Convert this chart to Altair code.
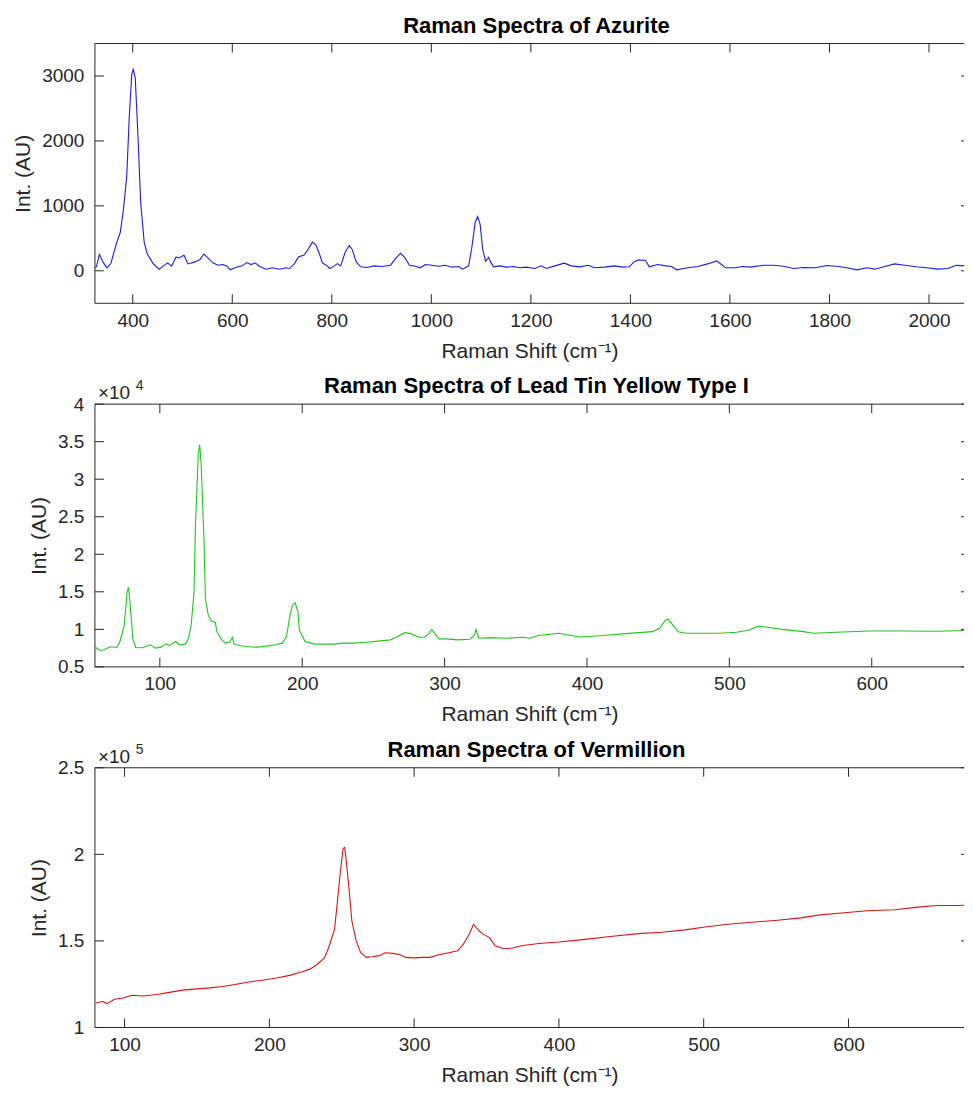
import altair as alt
import pandas as pd

# ---------------- data ----------------
azurite_shift = [324, 327, 333, 340, 348, 356, 367, 375, 381, 388, 393, 398, 401, 405, 410, 416, 423,
                 429, 441, 453, 461, 470, 478, 487, 493, 503, 511, 525, 535, 543, 551, 561, 571, 581,
                 589, 596, 608, 620, 629, 638, 646, 655, 668, 681, 695, 708, 715, 725, 733, 745, 753,
                 761, 768, 775, 781, 789, 796, 805, 811, 818, 827, 835, 841, 849, 858, 871, 885, 901,
                 918, 928, 938, 947, 956, 968, 978, 988, 1001, 1015, 1028, 1041, 1055, 1063, 1075,
                 1081, 1088, 1093, 1098, 1103, 1109, 1115, 1119, 1125, 1138, 1151, 1165, 1178, 1191,
                 1208, 1221, 1231, 1248, 1267, 1281, 1298, 1315, 1328, 1348, 1368, 1385, 1398, 1407,
                 1415, 1430, 1438, 1455, 1471, 1483, 1493, 1515, 1535, 1555, 1573, 1583, 1591, 1611,
                 1625, 1641, 1668, 1688, 1708, 1728, 1748, 1771, 1795, 1818, 1835, 1855, 1875, 1891,
                 1911, 1931, 1951, 1975, 1995, 2018, 2038, 2055, 2068, 2080, 2098]
azurite_int = [40, 61, 253, 137, 46, 111, 415, 593, 922, 1454, 2366, 3025, 3101, 2974, 2164, 1049, 441,
               263, 111, 25, 71, 122, 71, 213, 198, 238, 106, 137, 172, 258, 198, 122, 86, 96,
               76, 15, 56, 76, 127, 96, 122, 66, 25, 46, 25, 46, 35, 111, 213, 248, 339,
               441, 400, 263, 122, 86, 35, 76, 111, 76, 289, 390, 329, 137, 61, 51, 76, 66,
               86, 187, 269, 198, 86, 71, 46, 96, 86, 71, 86, 56, 66, 25, 76,
               339, 745, 836, 720, 339, 147, 208, 137, 61, 76, 56, 66, 46, 56,
               35, 76, 35, 76, 117, 76, 61, 86, 46, 56, 76, 56, 61, 137,
               167, 162, 61, 96, 76, 66, 15, 46, 66, 106, 152, 96, 46, 46,
               66, 56, 86, 86, 71, 35, 51, 46, 81, 66, 46, 15, 46, 25,
               66, 106, 86, 61, 46, 25, 35, 86, 76, 106, 90]

lty_shift = [54, 55, 58, 61, 65, 70, 72, 75, 77, 78, 79, 81, 83, 88, 93, 97, 101, 104, 107, 111, 114,
             118, 120, 122, 124, 125, 127, 128, 129, 131, 132, 134, 136, 139, 140, 143, 146, 149, 151,
             152, 156, 163, 168, 175, 181, 186, 189, 191, 193, 195, 197, 198, 202, 208, 215, 222, 229,
             236, 245, 255, 262, 266, 272, 276, 282, 286, 289, 291, 293, 296, 301, 309, 318, 321, 322,
             324, 332, 344, 355, 360, 366, 380, 395, 411, 427, 446, 451, 455, 457, 460, 464, 470, 481,
             493, 505, 514, 520, 526, 537, 552, 559, 575, 598, 622, 645, 660, 675]
lty_int = [7700, 7590, 7190, 7280, 7680, 7590, 8380, 10570, 14960, 15610, 13640, 8820, 7590, 7540,
           7940, 7500, 7630, 8070, 7850, 8380, 7940, 8030, 8730, 10570, 14960, 23730, 33380, 34600,
           32060, 21970, 14080, 11890, 11100, 10920, 9690, 8730, 8160, 8290, 8950, 8030, 7850, 7680,
           7630, 7760, 7940, 8160, 9040, 11450, 13200, 13550, 12320, 9910, 8380, 8070, 8030, 8030,
           8160, 8160, 8290, 8460, 8600, 8950, 9560, 9430, 8950, 8950, 9470, 10000, 9470, 8730, 8730,
           8600, 8680, 9250, 10000, 8820, 8900, 8820, 8950, 8820, 9170, 9470, 8990, 9170, 9430, 9690,
           10130, 11230, 11360, 10660, 9690, 9470, 9470, 9470, 9610, 9910, 10390, 10310, 10000, 9690,
           9470, 9610, 9780, 9780, 9740, 9820, 9960]

verm_shift = [80, 82, 85, 88, 93, 99, 105, 113, 122, 131, 140, 150, 159, 168, 177, 186, 195, 205,
              214, 221, 228, 233, 238, 241, 245, 247, 249, 251, 252, 253, 255, 257, 260, 263, 267,
              271, 276, 280, 285, 290, 294, 300, 306, 311, 317, 324, 330, 334, 338, 341, 344, 347,
              352, 356, 362, 368, 374, 386, 400, 418, 437, 455, 471, 487, 501, 515, 533, 551, 567,
              579, 595, 613, 632, 648, 661, 675, 689]
verm_int = [114000, 114600, 115000, 113800, 116300, 117000, 118600, 118200, 119100, 120300, 121600,
            122300, 122900, 123700, 125000, 126300, 127300, 128600, 130100, 131800, 133700, 136400,
            140200, 146200, 156600, 172700, 189800, 203400, 204000, 197300, 180300, 161400, 150000,
            143400, 140500, 140900, 141500, 143200, 142800, 142200, 140500, 140200, 140500, 140500,
            142000, 143200, 144300, 148100, 153800, 159500, 156600, 154200, 151900, 147200, 145500,
            145900, 147200, 148500, 149400, 150900, 152700, 154200, 155000, 156400, 158000, 159500,
            160800, 161900, 163300, 164900, 166100, 167400, 168000, 169500, 170500, 170500, 170900]

titles = ["Raman Spectra of Azurite", "Raman Spectra of Lead Tin Yellow Type I",
          "Raman Spectra of Vermillion"]
x_title = "Raman Shift (cm\u207b\u00b9)"
y_title = "Int. (AU)"

az_xticks = [400, 600, 800, 1000, 1200, 1400, 1600, 1800, 2000]
az_yticks = [0, 1000, 2000, 3000]
lty_xticks = [100, 200, 300, 400, 500, 600]
lty_yticks = [5000, 10000, 15000, 20000, 25000, 30000, 35000, 40000]
verm_xticks = [100, 200, 300, 400, 500, 600]
verm_yticks = [100000, 150000, 200000, 250000]

exp_base = "\u00d710"
lty_exp = "4"
verm_exp = "5"

# ---------------- styling ----------------
FONT = "Liberation Sans"
AX = "#262626"
W = 870          # visible part of the plot area (the axes run on past the page edge)
TITLE_X = 442    # centre of the full axes box


def panel(xs, ys, title, xdom, ydom, xticks, yticks, color, H, label_expr=None, exp=None):
    df = pd.DataFrame({"x": xs, "y": ys})
    yaxis = dict(values=yticks, title=y_title, ticks=False, tickSize=0, domain=False, grid=False,
                 labelPadding=11, titlePadding=8)
    if label_expr:
        yaxis["labelExpr"] = label_expr
    else:
        yaxis["format"] = "d"
    xax = alt.Axis(values=xticks, title=x_title, ticks=False, tickSize=0, domain=False,
                   grid=False, labelPadding=8, titlePadding=10, format="d")
    yax = alt.Axis(**yaxis)
    xsc = alt.Scale(domain=xdom, nice=False, zero=False)
    ysc = alt.Scale(domain=ydom, nice=False, zero=False)
    line = alt.Chart(df).mark_line(color=color, strokeWidth=1.1, clip=True).encode(
        x=alt.X("x:Q", scale=xsc, axis=xax),
        y=alt.Y("y:Q", scale=ysc, axis=yax),
    )
    xt = pd.DataFrame({"x": xticks})
    yt = pd.DataFrame({"y": yticks})
    one = pd.DataFrame({"t": [title]})
    tx = alt.Chart(xt).mark_rule(color=AX, strokeWidth=1)
    ty = alt.Chart(yt).mark_rule(color=AX, strokeWidth=1)
    fr = alt.Chart(one).mark_rule(color=AX, strokeWidth=1)
    layers = [
        # axes box (top, bottom, left); the right side lies beyond the page edge
        fr.encode(x=alt.value(0), x2=alt.value(W), y=alt.value(0)),
        fr.encode(x=alt.value(0), x2=alt.value(W), y=alt.value(H)),
        fr.encode(x=alt.value(0), y=alt.value(0), y2=alt.value(H)),
        line,
        tx.encode(x=alt.X("x:Q", scale=xsc, axis=xax), y=alt.value(0), y2=alt.value(9)),
        tx.encode(x=alt.X("x:Q", scale=xsc, axis=xax), y=alt.value(H - 9), y2=alt.value(H)),
        ty.encode(y=alt.Y("y:Q", scale=ysc, axis=yax), x=alt.value(0), x2=alt.value(9)),
        ty.encode(y=alt.Y("y:Q", scale=ysc, axis=yax), x=alt.value(W - 3), x2=alt.value(W)),
        alt.Chart(one).mark_text(align="center", baseline="alphabetic", fontSize=22,
                                 fontWeight="bold", font=FONT, color="black").encode(
            x=alt.value(TITLE_X), y=alt.value(-11), text="t:N"),
    ]
    if exp:
        layers.append(alt.Chart(pd.DataFrame({"t": [exp_base]})).mark_text(
            align="left", baseline="alphabetic", fontSize=19, font=FONT, color=AX).encode(
            x=alt.value(3), y=alt.value(-5), text="t:N"))
        layers.append(alt.Chart(pd.DataFrame({"t": [exp]})).mark_text(
            align="left", baseline="alphabetic", fontSize=14, font=FONT, color=AX).encode(
            x=alt.value(41), y=alt.value(-14), text="t:N"))
    return alt.layer(*layers).properties(width=W, height=H)


p1 = panel(azurite_shift, azurite_int, titles[0], [324, 2070.3], [-500, 3500], az_xticks, az_yticks,
           "#1a1ae6", 260)
p2 = panel(lty_shift, lty_int, titles[1], [54.4, 664.8], [5000, 40000], lty_xticks, lty_yticks,
           "#1ec81e", 263, label_expr="toString(datum.value/10000)", exp=lty_exp)
p3 = panel(verm_shift, verm_int, titles[2], [79.5, 679.8], [100000, 250000], verm_xticks, verm_yticks,
           "#d41515", 260, label_expr="toString(datum.value/100000)", exp=verm_exp)

chart = alt.vconcat(p1, p2, p3, spacing=101, bounds="flush").properties(
    padding={"left": 4, "top": 6, "right": 0, "bottom": 0},
    background="white",
).configure_view(stroke=None).configure_axis(
    labelFont=FONT, labelFontSize=19, labelColor=AX, titleFont=FONT, titleFontSize=21,
    titleColor=AX, titleFontWeight="normal"
)

chart.save("out.html", embed_options={"renderer": "svg", "actions": False})
